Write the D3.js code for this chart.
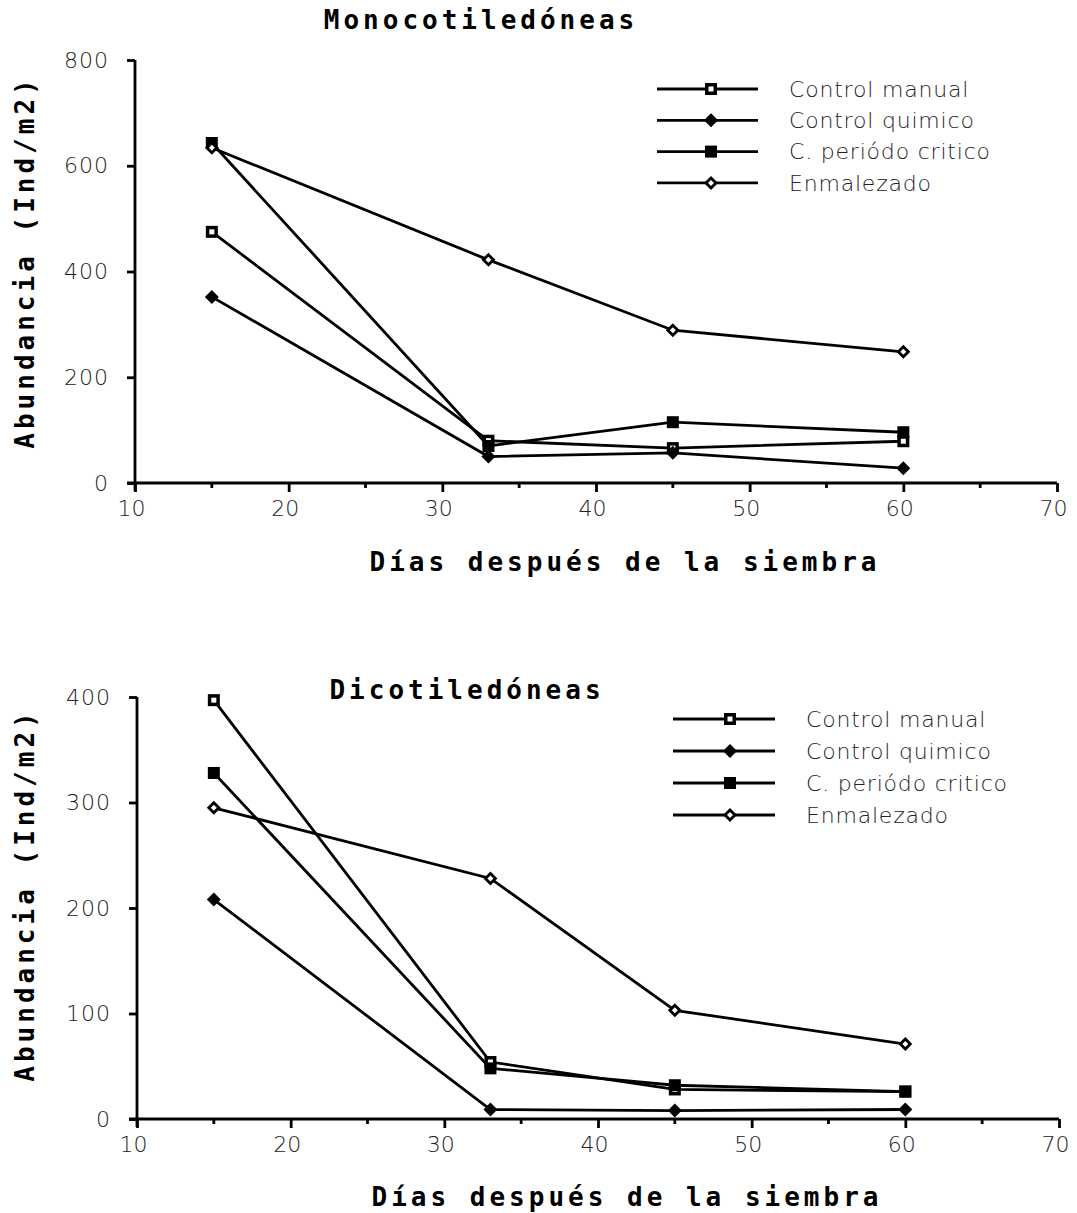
<!DOCTYPE html>
<html><head><meta charset="utf-8">
<script src="https://cdn.jsdelivr.net/npm/d3@7"></script>
<style>body{margin:0;background:#fff}</style>
</head><body>
<svg id="c" width="1077" height="1213"></svg>
<script>
const days = [15, 33, 45, 60];
const seriesNames = ["Control manual", "Control quimico", "C. periódo critico", "Enmalezado"];
const markerTypes = ["openSquare", "filledDiamond", "filledSquare", "openDiamond"];
const monoManual = [475, 80, 66, 79];
const monoQuimico = [352, 50, 57, 28];
const monoPeriodo = [643, 70, 115, 96];
const monoEnmalezado = [634, 422, 289, 248];
const dicoManual = [397, 54, 28, 26];
const dicoQuimico = [208, 9, 8, 9];
const dicoPeriodo = [328, 48, 32, 26];
const dicoEnmalezado = [295, 228, 103, 71];
const xTicks = [10, 20, 30, 40, 50, 60, 70];
const xMinor = [15, 25, 35, 45, 55, 65];
const monoYTicks = [0, 200, 400, 600, 800];
const dicoYTicks = [0, 100, 200, 300, 400];

const svg = d3.select("#c");
const boldFont = "'DejaVu Sans Mono', monospace";
const thinFont = "'DejaVu Sans', sans-serif";

function marker(g, type, x, y) {
  const s = 12;
  if (type === "openSquare") {
    g.append("rect").attr("x", x - s/2).attr("y", y - s/2).attr("width", s).attr("height", s).attr("fill", "#000");
    g.append("rect").attr("x", x - 2.5).attr("y", y - 2.5).attr("width", 5).attr("height", 5).attr("fill", "#fff");
  } else if (type === "filledSquare") {
    g.append("rect").attr("x", x - s/2).attr("y", y - s/2).attr("width", s).attr("height", s).attr("fill", "#000");
  } else if (type === "filledDiamond") {
    g.append("path").attr("d", `M${x},${y-7}L${x+7},${y}L${x},${y+7}L${x-7},${y}Z`).attr("fill", "#000");
  } else {
    g.append("path").attr("d", `M${x},${y-7}L${x+7},${y}L${x},${y+7}L${x-7},${y}Z`).attr("fill", "#000");
    g.append("path").attr("d", `M${x},${y-3}L${x+3},${y}L${x},${y+3}L${x-3},${y}Z`).attr("fill", "#fff");
  }
}

function panel(cfg) {
  const x = d3.scaleLinear().domain([10, 70]).range(cfg.xr);
  const y = d3.scaleLinear().domain([0, cfg.ymax]).range(cfg.yr);
  const g = svg.append("g");
  // x axis
  const xa = g.append("g").attr("transform", `translate(0,${cfg.yr[0]})`)
    .call(d3.axisBottom(x).tickValues(xTicks).tickSize(9).tickFormat(d3.format("d")));
  xa.select(".domain").attr("stroke-width", 2.8).attr("d", `M${cfg.xr[0]-8},0H${cfg.xr[1]}`);
  xa.selectAll(".tick line").attr("stroke-width", 2.8);
  xa.selectAll(".tick text").attr("font-family", thinFont).attr("font-size", 22).attr("font-weight", 200)
    .attr("fill", "#222").attr("dy", "0.95em").attr("dx", -4);
  g.append("g").selectAll("line").data(xMinor).join("line")
    .attr("x1", d => x(d)).attr("x2", d => x(d)).attr("y1", cfg.yr[0]).attr("y2", cfg.yr[0] + 5)
    .attr("stroke", "#000").attr("stroke-width", 2.8);
  // y axis
  const ya = g.append("g").attr("transform", `translate(${cfg.xr[0]},0)`)
    .call(d3.axisLeft(y).tickValues(cfg.yTicks).tickSize(8).tickFormat(d3.format("d")));
  ya.select(".domain").attr("stroke-width", 2.8).attr("d", `M0,${cfg.yr[1]}V${cfg.yr[0]+8}`);
  ya.selectAll(".tick line").attr("stroke-width", 2.8);
  ya.selectAll(".tick text").attr("font-family", thinFont).attr("font-size", 22).attr("font-weight", 200)
    .attr("fill", "#222").attr("x", -26).attr("letter-spacing", 1);
  // lines
  const line = d3.line().x((d, i) => x(days[i])).y(d => y(d));
  cfg.series.forEach((vals, k) => {
    g.append("path").datum(vals).attr("d", line).attr("fill", "none").attr("stroke", "#000").attr("stroke-width", 2.8);
  });
  cfg.series.forEach((vals, k) => {
    vals.forEach((v, i) => marker(g, markerTypes[k], x(days[i]), y(v)));
  });
  // legend
  seriesNames.forEach((name, k) => {
    const ly = cfg.legY + k * cfg.legDy;
    g.append("line").attr("x1", cfg.legX0).attr("x2", cfg.legX1).attr("y1", ly).attr("y2", ly).attr("stroke", "#000").attr("stroke-width", 2.8);
    marker(g, markerTypes[k], cfg.legM, ly);
    g.append("text").attr("x", cfg.legT).attr("y", ly).attr("dy", "0.35em").attr("font-family", thinFont)
      .attr("font-size", 22).attr("font-weight", 200).attr("letter-spacing", 0.8).attr("fill", "#222").text(name);
  });
  // titles
  const bold = (t, tx, ty, rot) => {
    const el = g.append("text").attr("font-family", boldFont).attr("font-weight", "bold").attr("font-size", 26)
      .attr("letter-spacing", 4).attr("text-anchor", "middle").attr("fill", "#000").text(t);
    if (rot) el.attr("transform", `translate(${tx},${ty}) rotate(-90)`); else el.attr("x", tx).attr("y", ty);
  };
  bold(cfg.title, cfg.titleX, cfg.titleY);
  bold("Días después de la siembra", cfg.xlX, cfg.xlY);
  bold("Abundancia (Ind/m2)", 34, cfg.ylY, true);
}

panel({xr: [135, 1057], yr: [483, 60], ymax: 800, yTicks: monoYTicks,
  series: [monoManual, monoQuimico, monoPeriodo, monoEnmalezado],
  legY: 89, legDy: 31.3, legX0: 657, legX1: 758, legM: 711, legT: 789,
  title: "Monocotiledóneas", titleX: 481, titleY: 29, xlX: 625, xlY: 571, ylY: 262});
panel({xr: [137, 1059], yr: [1119, 697], ymax: 400, yTicks: dicoYTicks,
  series: [dicoManual, dicoQuimico, dicoPeriodo, dicoEnmalezado],
  legY: 719, legDy: 32, legX0: 673, legX1: 775, legM: 730, legT: 806,
  title: "Dicotiledóneas", titleX: 467, titleY: 699, xlX: 627, xlY: 1206, ylY: 895});
</script>
</body></html>
